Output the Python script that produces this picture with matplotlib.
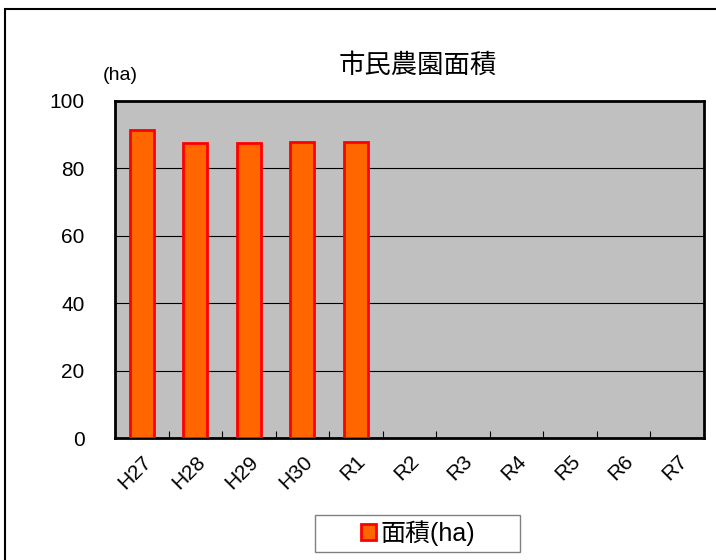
import matplotlib
matplotlib.use("Agg")
import matplotlib.pyplot as plt
from matplotlib.patches import Rectangle

plt.rcParams['font.family'] = ['Liberation Sans', 'Noto Sans CJK JP', 'DejaVu Sans']

categories = ["H27", "H28", "H29", "H30", "R1", "R2", "R3", "R4", "R5", "R6", "R7"]
values = [91.5, 87.5, 87.4, 87.8, 87.9, None, None, None, None, None, None]
yticks = [0, 20, 40, 60, 80, 100]

fig = plt.figure(figsize=(7.16, 5.6), dpi=100)
fig.patch.set_facecolor("white")
fig.patches.append(Rectangle((5/716, -0.1), 1.2, 1 - 9/560 + 0.1, transform=fig.transFigure,
                             fill=False, edgecolor="black", linewidth=1.5, clip_on=False))

ax = fig.add_axes([115/716, 1 - 438/560, (704 - 115)/716, (438 - 101)/560])
ax.set_facecolor("#C0C0C0")

xs = [i for i, v in enumerate(values) if v is not None]
vs = [v for v in values if v is not None]
ax.bar(xs, vs, width=0.45, color="#FF6600", edgecolor="#FF0000", linewidth=2, zorder=3,
       label="面積(ha)")

ax.set_xlim(-0.5, len(categories) - 0.5)
ax.set_ylim(0, 100)
ax.set_yticks(yticks)
ax.set_yticklabels([str(t) for t in yticks], fontsize=15)
for t in yticks[1:-1]:
    ax.axhline(t, color="black", linewidth=0.8, zorder=1)

ax.set_xticks(range(len(categories)))
ax.set_xticklabels(categories, rotation=45, fontsize=15, ha="right", rotation_mode="anchor")
ax.tick_params(axis="x", length=0, pad=10)
ax.set_xticks([i + 0.5 for i in range(len(categories) - 1)], minor=True)
ax.tick_params(axis="x", which="minor", direction="in", length=5, width=0.8)
ax.tick_params(axis="y", length=0, pad=22)

for s in ax.spines.values():
    s.set_linewidth(2)
    s.set_color("black")

fig.text(418/716, 1 - 66/560, "市民農園面積", fontsize=19, ha="center", va="center")
fig.text(120/716, 1 - 75/560, "(ha)", fontsize=14, ha="center", va="center")

fig.patches.append(Rectangle((315/716, 1 - 552/560), 205/716, 37/560, transform=fig.transFigure,
                             fill=True, facecolor="white", edgecolor="#808080", linewidth=1))
leg = fig.legend(loc="center", bbox_to_anchor=(418/716, 1 - 533/560), fontsize=18,
                 frameon=False, handlelength=0.6, handleheight=0.6, handletextpad=0.15,
                 borderpad=0.2)

fig.savefig("out.png", dpi=100)
